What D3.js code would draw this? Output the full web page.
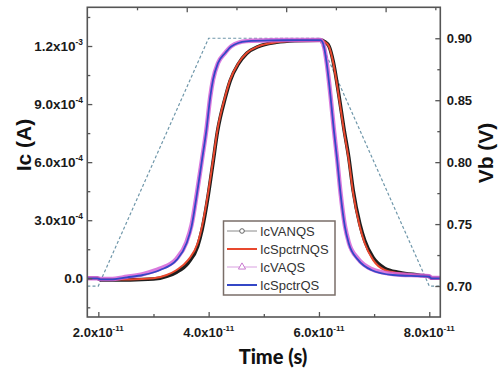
<!DOCTYPE html>
<html><head><meta charset="utf-8">
<script src="https://cdn.jsdelivr.net/npm/d3@7"></script>
<style>body{margin:0;background:#fff}svg{display:block}</style>
</head><body>
<svg id="c" width="498" height="370"></svg>
<script>
// ---- data ----
const timeQS = [1.80e-11,1.98e-11,2.04e-11,2.22e-11,2.52e-11,2.81e-11,3.12e-11,3.42e-11,3.60e-11,3.69e-11,3.79e-11,3.88e-11,3.96e-11,4.03e-11,4.08e-11,4.17e-11,4.30e-11,4.41e-11,4.68e-11,5.11e-11,5.65e-11,6.03e-11,6.09e-11,6.14e-11,6.21e-11,6.27e-11,6.33e-11,6.39e-11,6.47e-11,6.54e-11,6.71e-11,6.95e-11,7.34e-11,8.00e-11,8.04e-11,8.20e-11];
const icSpctrQS = [0,0,-0.06e-4,-0.06e-4,0.05e-4,0.17e-4,0.43e-4,0.95e-4,1.81e-4,2.67e-4,4.40e-4,6.12e-4,7.67e-4,9.39e-4,10.26e-4,11.12e-4,11.64e-4,11.98e-4,12.24e-4,12.29e-4,12.30e-4,12.30e-4,11.98e-4,11.12e-4,9.39e-4,7.67e-4,6.12e-4,4.40e-4,2.67e-4,1.81e-4,0.95e-4,0.43e-4,0.17e-4,0.08e-4,0,0];
const icVAQS    = [0,0,-0.04e-4,-0.04e-4,0.08e-4,0.22e-4,0.50e-4,1.02e-4,1.88e-4,2.75e-4,4.45e-4,6.15e-4,7.70e-4,9.40e-4,10.27e-4,11.12e-4,11.65e-4,11.99e-4,12.25e-4,12.30e-4,12.31e-4,12.31e-4,11.99e-4,11.14e-4,9.42e-4,7.70e-4,6.16e-4,4.45e-4,2.72e-4,1.86e-4,1.00e-4,0.48e-4,0.22e-4,0.11e-4,0.02e-4,0.02e-4];
const timeNQS = [1.80e-11,1.98e-11,2.04e-11,2.58e-11,3.00e-11,3.24e-11,3.42e-11,3.63e-11,3.80e-11,3.88e-11,3.99e-11,4.08e-11,4.16e-11,4.30e-11,4.39e-11,4.54e-11,4.69e-11,4.90e-11,5.23e-11,5.56e-11,6.05e-11,6.10e-11,6.18e-11,6.26e-11,6.36e-11,6.45e-11,6.54e-11,6.62e-11,6.74e-11,6.83e-11,6.98e-11,7.19e-11,7.46e-11,7.82e-11,8.00e-11,8.04e-11,8.20e-11];
const icSpctrNQS = [0,0,-0.06e-4,-0.06e-4,0,0.17e-4,0.43e-4,0.95e-4,1.81e-4,2.67e-4,4.40e-4,6.12e-4,7.67e-4,9.39e-4,10.26e-4,11.12e-4,11.64e-4,11.98e-4,12.19e-4,12.27e-4,12.30e-4,12.22e-4,11.98e-4,11.12e-4,9.39e-4,7.67e-4,6.12e-4,4.40e-4,2.67e-4,1.81e-4,0.95e-4,0.43e-4,0.26e-4,0.14e-4,0.08e-4,0,0];
const icVANQS    = [0,0,-0.08e-4,-0.08e-4,-0.04e-4,0.10e-4,0.32e-4,0.80e-4,1.65e-4,2.50e-4,4.25e-4,6.00e-4,7.58e-4,9.32e-4,10.20e-4,11.08e-4,11.62e-4,11.97e-4,12.19e-4,12.27e-4,12.30e-4,12.23e-4,12.00e-4,11.18e-4,9.48e-4,7.78e-4,6.25e-4,4.55e-4,2.82e-4,1.95e-4,1.07e-4,0.52e-4,0.30e-4,0.16e-4,0.09e-4,0,0];
const timeVb = [1.80e-11,2.00e-11,4.00e-11,6.00e-11,8.00e-11,8.20e-11];
const vb = [0.70,0.70,0.90,0.90,0.70,0.70];

const xMajor = [2e-11,4e-11,6e-11,8e-11];
const xMinor = [3e-11,5e-11,7e-11];
const xLabels = [["2.0x10","-11"],["4.0x10","-11"],["6.0x10","-11"],["8.0x10","-11"]];
const yMajor = [0,3e-4,6e-4,9e-4,1.2e-3];
const yMinor = [-1.5e-4,1.5e-4,4.5e-4,7.5e-4,1.05e-3,1.35e-3];
const yLabels = [["0.0",""],["3.0x10","-4"],["6.0x10","-4"],["9.0x10","-4"],["1.2x10","-3"]];
const vMajor = [0.70,0.75,0.80,0.85,0.90];
const vMinor = [0.725,0.775,0.825,0.875];
const vLabels = ["0.70","0.75","0.80","0.85","0.90"];
const topMajor = [2,4,6];
const topMinor = [1,3,5,7];
const seriesNames = ["IcVANQS","IcSpctrNQS","IcVAQS","IcSpctrQS"];

// ---- chart ----
const svg = d3.select("#c");
const L = 87.3, R = 440.3, T = 7.3, B = 317;
const x = d3.scaleLinear().domain([1.8e-11, 8.2e-11]).range([L, R]);
const y = d3.scaleLinear().domain([-2e-4, 1.4e-3]).range([B, T]);
const yv = d3.scaleLinear().domain([0.675, 0.925]).range([B, T]);
const xt = d3.scaleLinear().domain([0, 7.1]).range([L, R]);
const axisCol = "#555";
const font = "'Liberation Sans', Arial, sans-serif";

svg.append("rect").attr("width",498).attr("height",370).attr("fill","#fff");

// data lines
svg.append("clipPath").attr("id","clp").append("rect")
  .attr("x",L).attr("y",T).attr("width",R-L).attr("height",B-T);
const g = svg.append("g").attr("clip-path","url(#clp)");

const lineI = (ts) => d3.line().x((d,i)=>x(ts[i])).y(d=>y(d)).curve(d3.curveMonotoneX);
const lineV = d3.line().x((d,i)=>x(timeVb[i])).y(d=>yv(d));

g.append("path").datum(vb).attr("d", lineV).attr("fill","none")
  .attr("stroke","#6f97aa").attr("stroke-width",1.2).attr("stroke-dasharray","3,2.2");

g.append("path").datum(icVANQS).attr("d", lineI(timeNQS)).attr("fill","none")
  .attr("stroke","#1e1e1e").attr("stroke-width",3.6);
g.append("path").datum(icSpctrNQS).attr("d", lineI(timeNQS)).attr("fill","none")
  .attr("stroke","#e8482e").attr("stroke-width",2);
g.append("path").datum(icVAQS).attr("d", lineI(timeQS)).attr("fill","none")
  .attr("stroke","#d463d8").attr("stroke-width",4.4).attr("stroke-opacity",0.85);
g.append("path").datum(icSpctrQS).attr("d", lineI(timeQS)).attr("fill","none")
  .attr("stroke","#3447c6").attr("stroke-width",1.8);

// axes
function styleAxis(sel){
  sel.select(".domain").remove();
  sel.selectAll(".tick line").attr("stroke",axisCol).attr("stroke-width",1.3);
}
svg.append("g").attr("transform",`translate(0,${B})`)
  .call(d3.axisBottom(x).tickValues(xMajor).tickSize(-5).tickFormat("")).call(styleAxis);
svg.append("g").attr("transform",`translate(0,${B})`)
  .call(d3.axisBottom(x).tickValues(xMinor).tickSize(-3).tickFormat("")).call(styleAxis);
svg.append("g").attr("transform",`translate(0,${T})`)
  .call(d3.axisTop(xt).tickValues(topMajor).tickSize(-5).tickFormat("")).call(styleAxis);
svg.append("g").attr("transform",`translate(0,${T})`)
  .call(d3.axisTop(xt).tickValues(topMinor).tickSize(-3).tickFormat("")).call(styleAxis);
svg.append("g").attr("transform",`translate(${L},0)`)
  .call(d3.axisLeft(y).tickValues(yMajor).tickSize(-5).tickFormat("")).call(styleAxis);
svg.append("g").attr("transform",`translate(${L},0)`)
  .call(d3.axisLeft(y).tickValues(yMinor).tickSize(-3).tickFormat("")).call(styleAxis);
svg.append("g").attr("transform",`translate(${R},0)`)
  .call(d3.axisRight(yv).tickValues(vMajor).tickSize(-5).tickFormat("")).call(styleAxis);
svg.append("g").attr("transform",`translate(${R},0)`)
  .call(d3.axisRight(yv).tickValues(vMinor).tickSize(-3).tickFormat("")).call(styleAxis);

// frame
svg.append("rect").attr("x",L).attr("y",T).attr("width",R-L).attr("height",B-T)
  .attr("fill","none").attr("stroke",axisCol).attr("stroke-width",1.6);

// tick labels
function supLabel(parent, xx, yy, anchor, base, sup, size){
  const t = parent.append("text").attr("x",xx).attr("y",yy).attr("text-anchor",anchor)
    .attr("font-family",font).attr("font-weight","bold").attr("font-size",size).attr("fill","#1a1a1a");
  t.append("tspan").text(base);
  if (sup) t.append("tspan").attr("dy",-6).attr("font-size",size*0.62).text(sup);
  return t;
}
const lab = svg.append("g");
yMajor.forEach((v,i)=> supLabel(lab, 83, y(v)+5, "end", yLabels[i][0], yLabels[i][1], 13.5));
xMajor.forEach((v,i)=> supLabel(lab, x(v), 337, "middle", xLabels[i][0], xLabels[i][1], 13));
vMajor.forEach((v,i)=> supLabel(lab, R+6.5, yv(v)+4.5, "start", vLabels[i], "", 13));

// axis titles
svg.append("text").attr("transform","translate(31,145) rotate(-90)").attr("text-anchor","middle")
  .attr("font-family",font).attr("font-weight","bold").attr("font-size",21).attr("fill","#111").text("Ic (A)");
svg.append("text").attr("transform","translate(493,153) rotate(-90)").attr("text-anchor","middle")
  .attr("font-family",font).attr("font-weight","bold").attr("font-size",21).attr("fill","#111").text("Vb (V)");
svg.append("text").attr("x",273).attr("y",364).attr("text-anchor","middle")
  .attr("font-family","Lato, 'Open Sans', sans-serif").attr("font-weight","900").attr("font-size",20).attr("fill","#111").text("Time (s)");

// legend
const lg = svg.append("g");
lg.append("rect").attr("x",223.5).attr("y",221).attr("width",111.5).attr("height",74)
  .attr("fill","#fff").attr("stroke","#7a6e68").attr("stroke-width",1.5);
const legCols = ["#8a8a8a","#e8482e","#d9a0e0","#3447c6"];
const legW = [1,2,1,2];
seriesNames.forEach((nm,i)=>{
  const yy = 231 + i*18;
  lg.append("line").attr("x1",227).attr("x2",257).attr("y1",yy).attr("y2",yy)
    .attr("stroke",legCols[i]).attr("stroke-width",legW[i]);
  if (i===0) lg.append("circle").attr("cx",242).attr("cy",yy).attr("r",2.3)
    .attr("fill","#fff").attr("stroke","#555").attr("stroke-width",0.9);
  if (i===2) lg.append("path").attr("d",d3.symbol(d3.symbolTriangle,22)())
    .attr("transform",`translate(242,${yy})`).attr("fill","#fff").attr("stroke","#c46ccc").attr("stroke-width",0.9);
  lg.append("text").attr("x",260).attr("y",yy+4.6).attr("font-family",font)
    .attr("font-size",13).attr("fill","#333").text(nm);
});
</script>
</body></html>
